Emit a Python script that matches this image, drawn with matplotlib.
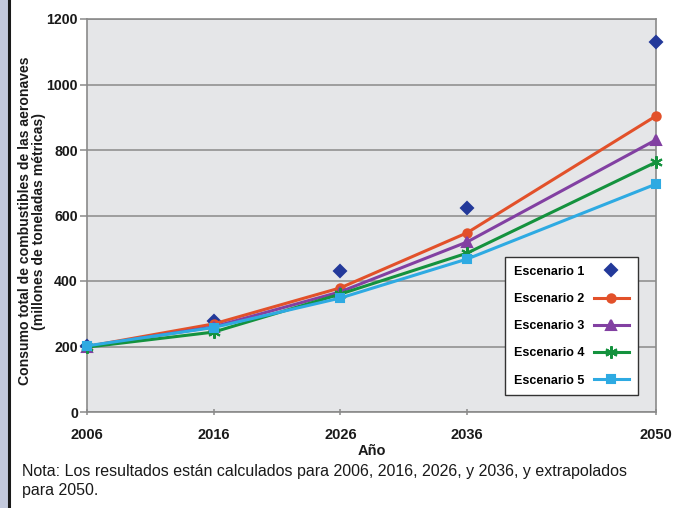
import matplotlib
matplotlib.use("Agg")
import matplotlib.pyplot as plt
import numpy as np
from matplotlib.patches import Rectangle
from matplotlib.lines import Line2D

plt.rcParams['font.family'] = ['Liberation Sans', 'DejaVu Sans']

years = [2006, 2016, 2026, 2036, 2050]
year_labels = ["2006", "2016", "2026", "2036", "2050"]
escenario_1 = [202, 278, 430, 623, 1130]
escenario_2 = [200, 269, 379, 547, 904]
escenario_3 = [200, 260, 367, 519, 831]
escenario_4 = [198, 244, 360, 485, 763]
escenario_5 = [202, 258, 348, 467, 696]
y_ticks = [0, 200, 400, 600, 800, 1000, 1200]

# x axis: calculated decade spacing up to 2036, slightly stretched for the extrapolated span
K = 1.066


def fwd(x):
    x = np.asarray(x, dtype=float)
    return np.where(x <= 2036, x, 2036 + (x - 2036) * K)


def inv(u):
    u = np.asarray(u, dtype=float)
    return np.where(u <= 2036, u, 2036 + (u - 2036) / K)


fig = plt.figure(figsize=(6.77, 5.08), dpi=100)
fig.patch.set_facecolor("white")

# side strip on the left edge
fig.add_artist(Rectangle((0, 0), 8 / 677, 1, transform=fig.transFigure,
                         facecolor="#c3c9dc", edgecolor="none"))
fig.add_artist(Line2D([9 / 677, 9 / 677], [0, 1], transform=fig.transFigure,
                      color="#1a1a1a", lw=2.2))

ax = fig.add_axes([87 / 677, 1 - 412 / 508, (656 - 87) / 677, (412 - 19) / 508])
ax.set_facecolor("#e5e6e8")
ax.set_xscale("function", functions=(fwd, inv))

series = [
    ("Escenario 1", escenario_1, "#23399a", "D", "none", 6),
    ("Escenario 2", escenario_2, "#e2512a", "o", "-", 6),
    ("Escenario 3", escenario_3, "#8240a2", "^", "-", 6.5),
    ("Escenario 4", escenario_4, "#14923e", (6, 2, 0), "-", 9),
    ("Escenario 5", escenario_5, "#2eaae2", "s", "-", 6),
]
for label, vals, color, marker, ls, ms in series:
    ax.plot(years, vals, linestyle=ls, color=color, lw=2.2, marker=marker,
            markersize=ms, markeredgecolor=color, markeredgewidth=1.5,
            label=label, clip_on=False, zorder=3)

ax.set_xlim(2006, 2050)
ax.set_ylim(0, 1200)
ax.set_xticks(years)
ax.set_xticklabels(year_labels)
ax.set_xticks([], minor=True)
ax.set_yticks(y_ticks)
ax.yaxis.grid(True, color="#8a8a8a", lw=1.1)
ax.set_axisbelow(True)
for side in ["left", "right", "top", "bottom"]:
    ax.spines[side].set_color("#8a8a8a")
    ax.spines[side].set_linewidth(1.2)
ax.tick_params(axis="both", colors="#8a8a8a", labelcolor="#1a1a1a",
               labelsize=10.5, length=5, width=1.1)
ax.tick_params(axis="x", direction="inout", pad=9)
ax.tick_params(axis="y", pad=1.5, labelsize=10.2)
for t in ax.get_xticklabels() + ax.get_yticklabels():
    t.set_fontweight("bold")

ax.set_xlabel("Año", fontsize=10.5, fontweight="bold", color="#1a1a1a")
ax.xaxis.set_label_coords(0.5, -0.081)
ax.set_ylabel("Consumo total de combustibles de las aeronaves\n(millones de toneladas métricas)",
              fontsize=10.1, fontweight="bold", color="#1a1a1a",
              linespacing=1.0)
ax.yaxis.set_label_coords(-0.072, 0.486)

leg = ax.legend(loc="lower right", bbox_to_anchor=(0.9675, 0.042), markerfirst=False,
                frameon=True, fancybox=False, edgecolor="#333333", facecolor="white",
                framealpha=1, prop={"weight": "bold", "size": 9.0},
                handlelength=2.8, labelspacing=1.22, borderpad=0.7, handletextpad=0.75,
                borderaxespad=0)
leg.get_frame().set_linewidth(1.0)

fig.text(22 / 677, 1 - 481 / 508,
         "Nota: Los resultados están calculados para 2006, 2016, 2026, y 2036, y extrapolados\npara 2050.",
         fontsize=11.5, color="#1a1a1a", va="center", linespacing=1.3)

fig.savefig("out.png", dpi=100)
